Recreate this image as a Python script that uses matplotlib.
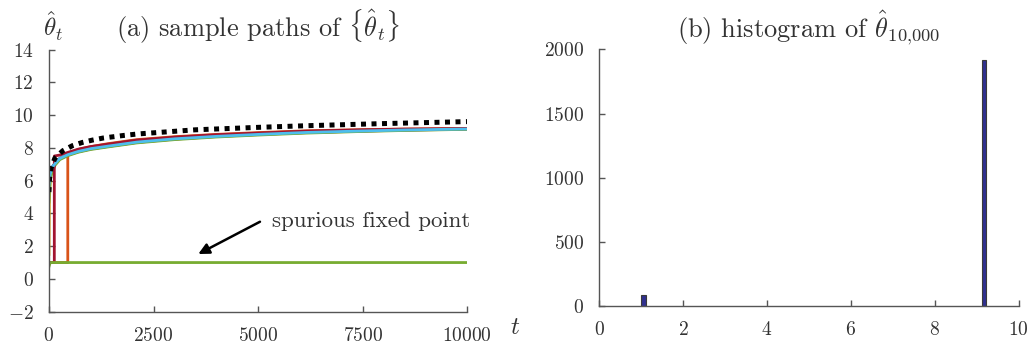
import matplotlib
matplotlib.use("Agg")
import matplotlib.pyplot as plt

plt.rcParams["font.family"] = "serif"
plt.rcParams["font.serif"] = ["cmr10"]
plt.rcParams["mathtext.fontset"] = "cm"
plt.rcParams["axes.formatter.use_mathtext"] = True
plt.rcParams["font.size"] = 14

# MATLAB-like default colours
BLUE = "#0072BD"
ORANGE = "#D95319"
YELLOW = "#EDB120"
PURPLE = "#7E2F8E"
GREEN = "#77AC30"
CYAN = "#4DBEEE"
DARKRED = "#A2142F"

# ---- (a) sample paths of theta_t ----
T_CLUSTER = [0, 30, 80, 150, 260, 450, 700, 1000, 1400, 2100, 3000, 4000, 5000, 6160, 7500, 8500, 10000]
CYAN_VALS = [5.7, 6.4, 6.8, 7.05, 7.35, 7.58, 7.78, 7.95, 8.1, 8.35, 8.55, 8.7, 8.82, 8.94, 9.03, 9.09, 9.15]
BLUE_VALS = [5.9, 6.5, 6.85, 7.08, 7.37, 7.6, 7.8, 7.97, 8.12, 8.37, 8.57, 8.72, 8.84, 8.95, 9.04, 9.1, 9.16]
PURPLE_VALS = [5.5, 6.3, 6.75, 7.02, 7.33, 7.56, 7.76, 7.93, 8.08, 8.33, 8.53, 8.69, 8.81, 8.93, 9.02, 9.08, 9.14]
GREEN2_VALS = [4.7, 6.0, 6.6, 6.95, 7.28, 7.52, 7.73, 7.9, 8.05, 8.3, 8.5, 8.66, 8.78, 8.9, 9.0, 9.06, 9.13]

T_YELLOW = [0, 10, 30, 80, 150, 260, 450, 700, 1000, 1400, 2100, 3000, 4000, 5000, 6160, 7500, 8500, 10000]
YELLOW_VALS = [1.5, 4.7, 6.2, 6.75, 7.03, 7.34, 7.57, 7.77, 7.94, 8.09, 8.34, 8.54, 8.7, 8.82, 8.94, 9.03, 9.09, 9.15]

T_RED = [0, 128, 128, 260, 450, 700, 1000, 1400, 2100, 3000, 4000, 5000, 6160, 7500, 8500, 10000]
RED_VALS = [1.0, 1.0, 7.5, 7.56, 7.72, 7.92, 8.08, 8.22, 8.47, 8.65, 8.8, 8.9, 9.02, 9.1, 9.14, 9.18]

T_ORANGE = [0, 450, 450, 700, 1000, 1400, 2100, 3000, 4000, 5000, 6160, 7500, 8500, 10000]
ORANGE_VALS = [1.0, 1.0, 7.62, 7.9, 8.07, 8.25, 8.5, 8.68, 8.82, 8.93, 9.04, 9.11, 9.15, 9.18]

T_GREEN = [0, 30, 10000]
GREEN_VALS = [0.75, 1.0, 1.0]

T_BLACK = [0, 15, 50, 140, 330, 560, 800, 1035, 1300, 1550, 1800, 2100, 2300, 3500, 5000, 6160, 8000, 10000]
BLACK_VALS = [5.3, 6.15, 6.75, 7.36, 7.82, 8.13, 8.33, 8.47, 8.6, 8.68, 8.76, 8.84, 8.88, 9.1, 9.25, 9.35, 9.48, 9.6]

# annotation: arrow head on the spurious fixed point, tail next to the text
ARROW_HEAD = (3569, 1.52)
ARROW_TAIL = (5044, 3.49)
LABEL_POS = (5330, 3.5)

# ---- (b) histogram of theta_10000 ----
BIN_CENTERS = [1.05, 9.165]
BIN_COUNTS = [85, 1915]
BIN_WIDTH = 0.105

TEXT = "#333333"
SPINE = "#555555"


def style_axes(ax):
    for side in ("top", "right"):
        ax.spines[side].set_visible(False)
    for side in ("left", "bottom"):
        ax.spines[side].set_color(SPINE)
        ax.spines[side].set_linewidth(1.0)
    ax.tick_params(direction="in", length=4, width=1.0, color=SPINE,
                   labelcolor=TEXT, labelsize=14, pad=11)


fig = plt.figure(figsize=(10.35, 3.45), dpi=100)
ax1 = fig.add_axes([0.0473, 0.0965, 0.4042, 0.76])
ax2 = fig.add_axes([0.579, 0.113, 0.4053, 0.744])

lw = 2.0
ax1.plot(T_CLUSTER, BLUE_VALS, color=BLUE, lw=lw)
ax1.plot(T_ORANGE, ORANGE_VALS, color=ORANGE, lw=lw)
ax1.plot(T_YELLOW, YELLOW_VALS, color=YELLOW, lw=lw)
ax1.plot(T_CLUSTER, PURPLE_VALS, color=PURPLE, lw=lw)
ax1.plot(T_CLUSTER, GREEN2_VALS, color=GREEN, lw=lw)
ax1.plot(T_RED, RED_VALS, color=DARKRED, lw=lw)
ax1.plot(T_GREEN, GREEN_VALS, color=GREEN, lw=lw)
ax1.plot(T_CLUSTER, CYAN_VALS, color=CYAN, lw=lw)
ax1.plot(T_BLACK, BLACK_VALS, color="black", lw=3.6, dashes=(1, 1.1), dash_capstyle="butt")

ax1.set_xlim(0, 10000)
ax1.set_ylim(-2, 14)
ax1.set_xticks([0, 2500, 5000, 7500, 10000])
ax1.set_yticks(range(-2, 15, 2))
style_axes(ax1)
ax1.set_title(r"(a) sample paths of $\{\hat{\theta}_t\}$", color=TEXT, fontsize=19, pad=9)
ax1.text(-0.015, 1.025, r"$\hat{\theta}_t$", transform=ax1.transAxes, fontsize=18,
         color=TEXT, ha="left", va="bottom")
ax1.text(1.115, -0.02, r"$t$", transform=ax1.transAxes, fontsize=18,
         color=TEXT, ha="center", va="top")
ax1.annotate("", xy=ARROW_HEAD, xytext=ARROW_TAIL,
             arrowprops=dict(arrowstyle="-|>", color="black", lw=1.8,
                             mutation_scale=16, shrinkA=0, shrinkB=0))
ax1.text(*LABEL_POS, "spurious fixed point", fontsize=16.5, color=TEXT,
         ha="left", va="center")

ax2.bar(BIN_CENTERS, BIN_COUNTS, width=BIN_WIDTH, color="#30308f",
        edgecolor="#3a3a3a", linewidth=0.8)
ax2.set_xlim(0, 10)
ax2.set_ylim(0, 2000)
ax2.set_xticks([0, 2, 4, 6, 8, 10])
ax2.set_yticks([0, 500, 1000, 1500, 2000])
style_axes(ax2)
ax2.set_title(r"(b) histogram of $\hat{\theta}_{10{,}000}$", color=TEXT, fontsize=19, pad=9)

fig.savefig("out.png", dpi=100)
